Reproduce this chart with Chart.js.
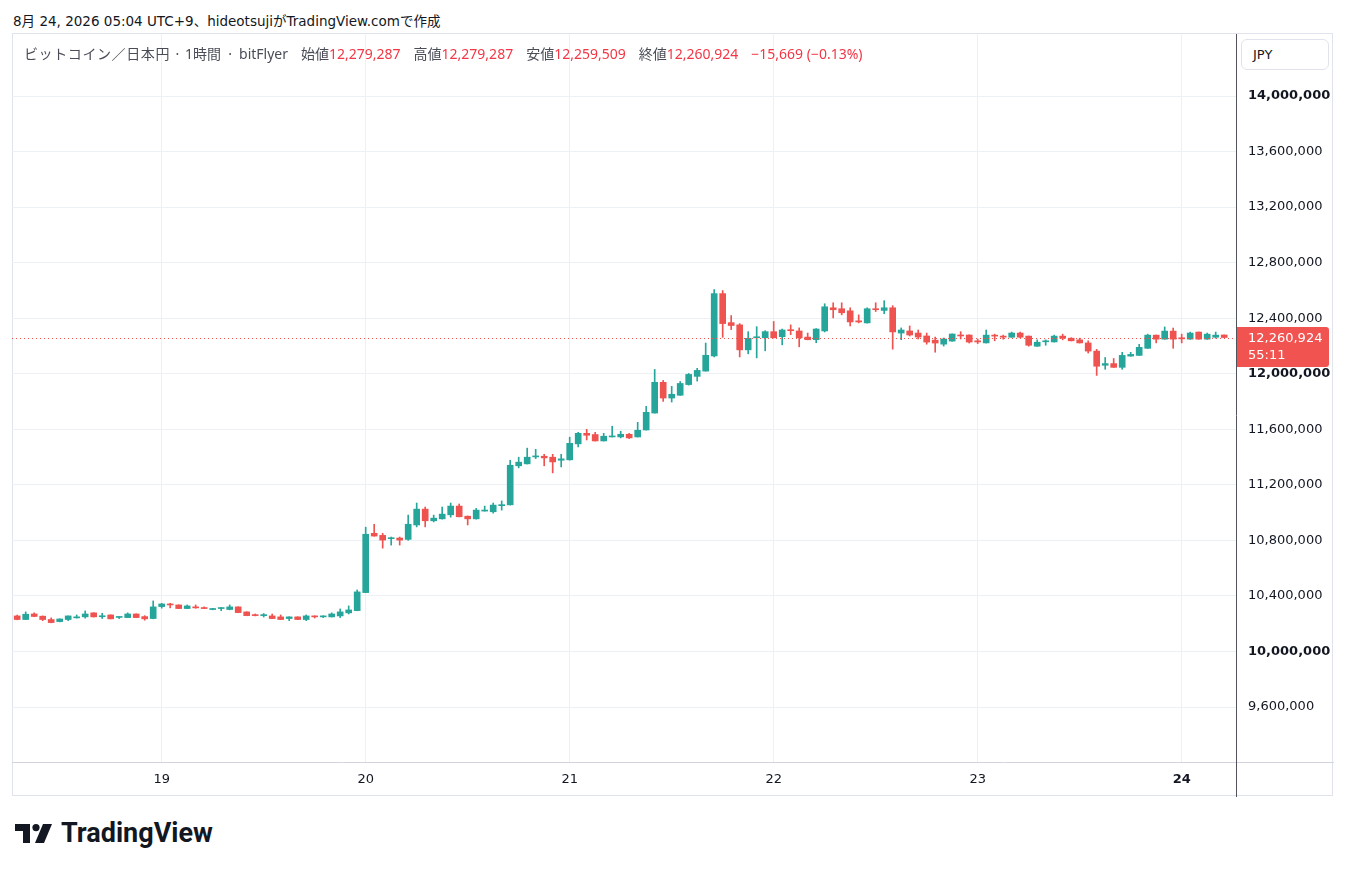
<!DOCTYPE html>
<html>
<head>
<meta charset="utf-8">
<title>ビットコイン／日本円 1時間</title>
<script src="https://cdn.jsdelivr.net/npm/chart.js@4.4.1/dist/chart.umd.min.js"></script>
<style>
    body {
        margin: 0;
        background: #fff;
        width: 1346px;
        height: 872px;
        position: relative;
        overflow: hidden;
        font-family: "DejaVu Sans", "Noto Sans CJK JP", sans-serif;
        color: #131722;
    }
    #credit {
        position: absolute;
        left: 13px;
        top: 10px;
        font-size: 13.5px;
    }
    #frame {
        position: absolute;
        left: 12px;
        top: 33px;
        width: 1321px;
        height: 763px;
        border: 1px solid #e0e3eb;
        box-sizing: border-box;
    }
    #wrap {
        position: absolute;
        left: 12px;
        top: 34px;
        width: 1322px;
        height: 763px;
    }
    #legend {
        position: absolute;
        left: 24px;
        top: 43px;
        font-family: "Noto Sans", "Noto Sans CJK JP", sans-serif;
        font-size: 14px;
        color: #4a4d57;
        white-space: pre;
    }
    #legend .t { letter-spacing: 0.6px; }
    #legend .sep { display: inline-block; text-align: center; }
    #legend .item { margin-left: 13px; }
    #legend .v { color: #f23645; }
    #currency {
        position: absolute;
        left: 1241px;
        top: 39px;
        width: 88px;
        height: 31px;
        border: 1px solid #e0e3eb;
        border-radius: 6px;
        box-sizing: border-box;
        font-size: 13px;
        line-height: 29px;
        padding-left: 11px;
        background: #fff;
    }
    #logo {
        position: absolute;
        left: 15px;
        top: 817px;
        display: flex;
        align-items: center;
        font-family: Roboto, sans-serif;
        font-size: 27px;
        font-weight: bold;
        color: #131722;
    }
    #logo svg { margin-right: 9px; }
</style>
</head>
<body>
<div id="credit">8月 24, 2026 05:04 UTC+9、hideotsujiがTradingView.comで作成</div>
<div id="frame"></div>
<div id="wrap"><canvas id="graph"></canvas></div>
<div id="legend"><span class="t">ビットコイン／日本円</span><span class="sep" style="width:15px">·</span>1時間<span class="sep" style="width:18px">·</span>bitFlyer<span class="item">始値<span class="v">12,279,287</span></span><span class="item">高値<span class="v">12,279,287</span></span><span class="item">安値<span class="v">12,259,509</span></span><span class="item">終値<span class="v">12,260,924</span></span><span class="item v">−15,669 (−0.13%)</span></div>
<div id="currency">JPY</div>
<div id="logo">
    <svg width="37" height="19" viewBox="0 0 37 19">
        <path d="M0 0h15v19H8V7H0z" fill="#131722"/>
        <circle cx="21" cy="3.6" r="3.6" fill="#131722"/>
        <path d="M28 0h9l-8 19h-9z" fill="#131722"/>
    </svg>
    TradingView
</div>

<script>
// hourly candles, 18th 07:00 -> 24th 05:00 (values in thousand yen)
const opens = [
    10256, 10230, 10270, 10254, 10230, 10215, 10230, 10242, 10249, 10278, 10250, 10263, 10245, 10244, 10270, 10251, 10237,
    10323, 10342, 10335, 10309, 10321, 10316, 10302, 10309, 10302, 10321, 10285, 10263, 10258, 10256, 10249, 10237, 10249, 10230, 10256, 10249, 10249, 10256, 10278, 10294,
    10424, 10851, 10836, 10812, 10817, 10807, 10911, 11025, 10941, 10955, 10984, 11047, 10974, 10955, 11011, 11006, 11050, 11056, 11337, 11351, 11401, 11406, 11399, 11377,
    11380, 11495, 11571, 11562, 11516, 11545, 11545, 11564, 11545, 11595, 11717, 11938, 11825, 11845, 11922, 11981, 12019, 12128, 12577, 12368, 12352, 12172, 12259, 12259,
    12303, 12267, 12315, 12308, 12264, 12245, 12308, 12475, 12468, 12453, 12381, 12366, 12468, 12456, 12475, 12293, 12308, 12293, 12272, 12242, 12213, 12235, 12279, 12279,
    12237, 12222, 12278, 12271, 12263, 12293, 12271, 12198, 12230, 12229, 12271, 12256, 12244, 12222, 12163, 12061, 12073, 12046, 12127, 12132, 12183, 12278, 12249, 12307,
    12259, 12249, 12300, 12249, 12263, 12279.287
];
const highs = [
    10262, 10285, 10278, 10256, 10242, 10235, 10256, 10263, 10292, 10279, 10275, 10264, 10249, 10278, 10271, 10258, 10364,
    10347, 10347, 10336, 10335, 10335, 10321, 10311, 10316, 10335, 10322, 10286, 10270, 10273, 10270, 10263, 10250, 10250, 10263, 10257, 10257, 10278, 10306, 10328, 10443,
    10895, 10916, 10851, 10824, 10824, 10982, 11069, 11040, 10982, 11040, 11069, 11062, 10976, 11030, 11047, 11069, 11084, 11377, 11399, 11464, 11456, 11420, 11420, 11420,
    11543, 11578, 11600, 11578, 11571, 11622, 11586, 11571, 11650, 11765, 12031, 11952, 11909, 11944, 12002, 12039, 12221, 12606, 12599, 12419, 12361, 12303, 12339, 12310,
    12376, 12322, 12352, 12330, 12293, 12325, 12504, 12511, 12511, 12475, 12424, 12475, 12511, 12526, 12490, 12330, 12344, 12315, 12293, 12264, 12257, 12287, 12303, 12280,
    12249, 12315, 12285, 12278, 12300, 12300, 12272, 12244, 12244, 12278, 12285, 12259, 12256, 12237, 12176, 12117, 12110, 12154, 12154, 12212, 12285, 12279, 12337, 12329,
    12285, 12300, 12301, 12293, 12300, 12279.287
];
const lows = [
    10228, 10229, 10250, 10222, 10206, 10213, 10222, 10240, 10240, 10248, 10237, 10234, 10237, 10243, 10243, 10225, 10235,
    10312, 10314, 10308, 10308, 10311, 10308, 10300, 10294, 10300, 10279, 10257, 10256, 10248, 10236, 10229, 10222, 10229, 10222, 10241, 10244, 10248, 10244, 10270, 10293,
    10423, 10830, 10744, 10766, 10766, 10800, 10897, 10897, 10933, 10953, 10967, 10969, 10911, 10953, 11010, 10996, 11018, 11054, 11322, 11350, 11389, 11337, 11286, 11329,
    11378, 11473, 11523, 11515, 11515, 11544, 11538, 11533, 11544, 11594, 11716, 11801, 11796, 11843, 11918, 11947, 12018, 12121, 12262, 12318, 12121, 12143, 12114, 12165,
    12258, 12208, 12281, 12194, 12244, 12223, 12301, 12402, 12424, 12344, 12366, 12364, 12448, 12432, 12177, 12245, 12272, 12250, 12213, 12155, 12199, 12234, 12250, 12221,
    12217, 12221, 12237, 12249, 12262, 12259, 12198, 12197, 12205, 12228, 12244, 12236, 12221, 12149, 11988, 12032, 12045, 12032, 12126, 12131, 12182, 12222, 12248, 12183,
    12222, 12248, 12248, 12248, 12256, 12259.509
];
const closes = [
    10230, 10268, 10252, 10230, 10208, 10234, 10256, 10249, 10270, 10249, 10252, 10235, 10248, 10270, 10244, 10235, 10321,
    10342, 10335, 10309, 10328, 10314, 10309, 10309, 10314, 10321, 10280, 10258, 10258, 10263, 10237, 10230, 10249, 10230, 10256, 10249, 10256, 10270, 10285, 10299, 10429,
    10844, 10831, 10802, 10817, 10802, 10916, 11025, 10941, 10960, 10989, 11047, 10970, 10955, 11018, 11016, 11054, 11054, 11341, 11363, 11399, 11406, 11394, 11365, 11387,
    11499, 11571, 11557, 11516, 11550, 11550, 11564, 11538, 11593, 11722, 11938, 11825, 11852, 11930, 11995, 12024, 12133, 12577, 12361, 12347, 12172, 12255, 12264, 12303,
    12259, 12315, 12310, 12259, 12245, 12322, 12482, 12461, 12439, 12373, 12373, 12468, 12461, 12475, 12301, 12315, 12279, 12264, 12228, 12221, 12250, 12286, 12272, 12228,
    12229, 12278, 12271, 12263, 12293, 12263, 12205, 12227, 12235, 12271, 12256, 12237, 12222, 12163, 12054, 12073, 12046, 12132, 12139, 12190, 12278, 12249, 12307, 12249,
    12251, 12293, 12249, 12285, 12278, 12260.924
];

const dayTickPos = [17, 41, 65, 89, 113, 137];
const dayLabels = ['19', '20', '21', '22', '23', '24'];
const priceTicks = [9600000, 10000000, 10400000, 10800000, 11200000, 11600000, 12000000,
    12400000, 12800000, 13200000, 13600000, 14000000];
const countdown = '55:11';

const UP = '#26a69a';
const DOWN = '#ef5350';
const FONT = '"DejaVu Sans", "Noto Sans CJK JP", sans-serif';

const yen = v => Math.round(v * 1000);
const candleColors = opens.map((o, i) => closes[i] >= o ? UP : DOWN);
const lastClose = yen(closes[closes.length - 1]);

const wickData = lows.map((l, i) => ({ x: i, y: [yen(l), yen(highs[i])] }));
const bodyData = opens.map((o, i) => ({ x: i, y: [yen(o), yen(closes[i])] }));

const priceLine = {
    id: 'priceLine',
    afterDraw(chart) {
        const ctx = chart.ctx;
        const area = chart.chartArea;
        const y = Math.round(chart.scales.y.getPixelForValue(lastClose));
        ctx.save();
        // dotted last price line
        ctx.strokeStyle = DOWN;
        ctx.lineWidth = 1;
        ctx.setLineDash([1, 3]);
        ctx.beginPath();
        ctx.moveTo(area.left, y + 0.5);
        ctx.lineTo(area.right, y + 0.5);
        ctx.stroke();
        ctx.setLineDash([]);
        // axis separators
        ctx.strokeStyle = '#d1d4dc';
        ctx.beginPath();
        ctx.moveTo(0, area.bottom + 0.5);
        ctx.lineTo(chart.width, area.bottom + 0.5);
        ctx.stroke();
        ctx.strokeStyle = '#50535e';
        ctx.beginPath();
        ctx.moveTo(area.right + 0.5, 0);
        ctx.lineTo(area.right + 0.5, chart.height);
        ctx.stroke();
        // price label
        ctx.fillStyle = '#f05350';
        ctx.beginPath();
        ctx.roundRect(area.right + 1, y - 11, 92, 40, [0, 3, 3, 0]);
        ctx.fill();
        ctx.fillStyle = '#fff';
        ctx.font = '13px ' + FONT;
        ctx.textBaseline = 'middle';
        ctx.textAlign = 'left';
        ctx.fillText(lastClose.toLocaleString('en-US'), area.right + 12, y + 1);
        ctx.fillText(countdown, area.right + 12, y + 18);
        ctx.restore();
    }
};

function noPadding(axis) {
    axis.paddingTop = 0;
    axis.paddingBottom = 0;
    axis.paddingLeft = 0;
    axis.paddingRight = 0;
}

const canvas = document.getElementById('graph');

new Chart(canvas, {
    type: 'bar',
    data: {
        datasets: [{
            label: 'wick',
            data: wickData,
            backgroundColor: candleColors,
            barThickness: 1,
            grouped: false,
            borderSkipped: false,
            order: 2
        }, {
            label: 'body',
            data: bodyData,
            backgroundColor: candleColors,
            barThickness: 6,
            minBarLength: 1,
            grouped: false,
            borderSkipped: false,
            order: 1
        }]
    },
    options: {
        responsive: true,
        maintainAspectRatio: false,
        animation: false,
        layout: { padding: 0 },
        plugins: {
            legend: { display: false },
            tooltip: { enabled: false }
        },
        scales: {
            x: {
                type: 'linear',
                offset: false,
                min: -0.61,
                max: 143.39,
                afterBuildTicks: axis => {
                    axis.ticks = dayTickPos.map(v => ({ value: v }));
                },
                afterFit: axis => {
                    axis.height = 35;
                    noPadding(axis);
                },
                ticks: {
                    autoSkip: false,
                    maxRotation: 0,
                    padding: 10,
                    color: '#131722',
                    font: context => ({
                        size: 13,
                        family: FONT,
                        weight: context.tick && context.tick.value === 137 ? 'bold' : 'normal'
                    }),
                    callback: value => dayLabels[dayTickPos.indexOf(value)]
                },
                grid: {
                    offset: false,
                    color: '#edf0f5',
                    drawTicks: false
                },
                border: { display: false }
            },
            y: {
                position: 'right',
                min: 9204000,
                max: 14446500,
                afterBuildTicks: axis => {
                    axis.ticks = priceTicks.map(v => ({ value: v }));
                },
                afterFit: axis => {
                    axis.width = 98;
                    noPadding(axis);
                },
                ticks: {
                    padding: 12,
                    color: '#131722',
                    font: context => ({
                        size: 13,
                        family: FONT,
                        weight: context.tick && context.tick.value % 2000000 === 0 ? 'bold' : 'normal'
                    }),
                    callback: value => value.toLocaleString('en-US')
                },
                grid: {
                    color: '#edf0f5',
                    drawTicks: false
                },
                border: { display: false }
            }
        }
    },
    plugins: [priceLine]
});
</script>
</body>
</html>
